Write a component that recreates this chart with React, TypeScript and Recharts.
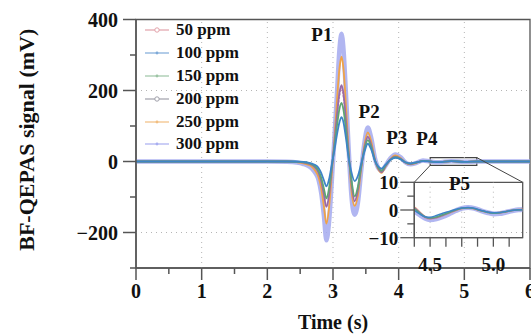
import { LineChart, Line, XAxis, YAxis, ReferenceArea, ReferenceLine, ReferenceDot } from 'recharts'

const FONT = '"Liberation Serif", "Times New Roman", serif'
const AXIS = '#555'
const INK = '#111'

// main trace, time in s, signal in mV
const TIME = [0, 1, 2, 2.3, 2.45, 2.55, 2.62, 2.68, 2.73, 2.78, 2.82, 2.86, 2.9, 2.94, 2.98, 3.02, 3.06, 3.1, 3.13, 3.16, 3.2, 3.24, 3.28, 3.33, 3.38, 3.43, 3.48, 3.53, 3.58, 3.64, 3.69, 3.74, 3.8, 3.87, 3.95, 4.03, 4.1, 4.18, 4.27, 4.37, 4.48, 4.6, 4.8, 5.0, 5.2, 5.6, 6]
const PPM50 = [0, 0, 0, 0, -1, -3, -5, -9, -16, -30, -52, -88, -125, -92, -22, 45, 125, 185, 205, 180, 105, 15, -58, -108, -76, -14, 38, 66, 46, 3, -18, -28, -12, 5, 13, 8, -2, -6, -3, 2, 0, -2, 1, -1, 0, 0, 0]
const PPM100 = [0, 0, 0, 0, 0, -1, -3, -6, -10, -18, -32, -52, -70, -50, -10, 30, 75, 112, 125, 110, 62, 8, -30, -55, -40, -6, 28, 50, 35, 2, -14, -20, -9, 4, 10, 6, -2, -5, -2, 1, 0, -2, 1, -1, 0, 0, 0]
const PPM150 = [0, 0, 0, 0, -1, -2, -4, -8, -14, -26, -45, -75, -104, -75, -18, 40, 100, 150, 165, 145, 85, 12, -50, -98, -70, -12, 34, 60, 42, 2, -17, -26, -11, 4, 12, 7, -2, -6, -3, 2, 0, -2, 1, -1, 0, 0, 0]
const PPM200 = [0, 0, 0, 0, -1, -3, -6, -10, -18, -32, -55, -92, -128, -95, -25, 50, 130, 195, 215, 190, 110, 18, -60, -112, -80, -15, 40, 70, 48, 3, -20, -30, -13, 5, 14, 8, -3, -7, -3, 2, 0, -2, 1, -1, 0, 0, 0]
const PPM250 = [0, 0, 0, 0, -2, -5, -9, -15, -26, -44, -75, -125, -175, -130, -40, 60, 170, 265, 295, 260, 150, 25, -80, -125, -95, -20, 48, 82, 58, 5, -22, -32, -14, 6, 17, 10, -3, -8, -4, 2, 0, -2, 1, -1, 0, 0, 0]
const PPM300 = [0, 0, 0, -1, -3, -7, -12, -20, -32, -52, -88, -150, -222, -170, -60, 60, 190, 320, 360, 315, 180, 30, -95, -150, -115, -25, 55, 96, 68, 8, -18, -25, -12, 8, 20, 12, -2, -8, -4, 3, 0, -2, 1, -1, 0, 0, 0]

// zoomed P5 region
const INSET_TIME = [4.38, 4.42, 4.46, 4.5, 4.55, 4.6, 4.65, 4.7, 4.75, 4.8, 4.85, 4.9, 4.95, 5.0, 5.05, 5.1, 5.15, 5.2, 5.23]
const IN50 = [0.8, -0.9, -2.8, -3.3, -2.9, -2.1, -1.2, -0.2, 0.5, 0.8, 0.5, -0.2, -0.8, -1.2, -1.1, -0.7, -0.2, 0.1, 0.2]
const IN100 = [-0.2, -1.5, -2.4, -2.6, -2.0, -1.2, -0.5, 0.2, 0.7, 0.9, 0.6, -0.1, -0.7, -1.0, -0.9, -0.5, -0.1, 0.1, 0.1]
const IN150 = [0.3, -1.2, -2.5, -2.9, -2.5, -1.7, -0.9, 0.0, 0.6, 0.8, 0.5, -0.2, -0.8, -1.2, -1.0, -0.6, -0.2, 0.0, 0.1]
const IN200 = [0.6, -1.0, -2.6, -3.1, -2.7, -1.9, -1.0, -0.1, 0.6, 0.8, 0.5, -0.2, -0.7, -1.1, -1.0, -0.6, -0.2, 0.1, 0.2]
const IN250 = [1.0, -0.8, -2.4, -3.0, -2.8, -2.0, -1.1, -0.2, 0.5, 0.7, 0.4, -0.3, -0.8, -1.0, -0.9, -0.5, -0.1, 0.2, 0.3]
const IN300 = [-0.5, -1.8, -3.0, -3.5, -3.2, -2.4, -1.4, -0.3, 0.6, 0.9, 0.6, -0.2, -0.9, -1.4, -1.3, -0.8, -0.3, 0.1, 0.2]

const X_TICKS = [0, 0.5, 1, 1.5, 2, 2.5, 3, 3.5, 4, 4.5, 5, 5.5, 6]
const X_LABELED = [0, 1, 2, 3, 4, 5, 6]
const Y_TICKS = [-300, -200, -100, 0, 100, 200, 300, 400]
const Y_LABELED = [-200, 0, 200, 400]
const X_GRID = [1, 2, 3, 4, 5]
const Y_GRID = [-200, 0, 200]

const IN_X_DOMAIN = [4.375, 5.232]
const IN_X_TICKS = [4.375, 4.5, 4.625, 4.75, 4.875, 5.0, 5.125]
const IN_X_LABELED = [4.5, 5.0]
const IN_Y_TICKS = [-10, -5, 0, 5, 10]
const IN_Y_LABELED = [-10, 0, 10]
const IN_X_GRID = [4.5, 4.75, 5.0]

// zoom box on the main plot and the corners of the inset in main-plot units
const ZOOM_BOX = { x1: 4.48, x2: 5.19, y1: -11, y2: 11 }
const INSET_CORNERS = { left: 4.238, right: 5.889, top: -58.5 }

const PEAKS = [
    { name: 'P1', t: 2.83, v: 359 },
    { name: 'P2', t: 3.55, v: 142 },
    { name: 'P3', t: 3.97, v: 67 },
    { name: 'P4', t: 4.43, v: 66 },
]

const SERIES = [
    { key: 's50', name: '50 ppm', color: '#c996bd', legend: '#e2a2aa', hollow: true, width: 1.5 },
    { key: 's100', name: '100 ppm', color: '#3d85c6', legend: '#7eaad8', hollow: false, width: 1.8 },
    { key: 's150', name: '150 ppm', color: '#5fa574', legend: '#9cc4a4', hollow: false, width: 1.8 },
    { key: 's200', name: '200 ppm', color: '#9a6aa6', legend: '#a0a0aa', hollow: true, width: 1.8 },
    { key: 's250', name: '250 ppm', color: '#f0a347', legend: '#f2be80', hollow: false, width: 1.8 },
    { key: 's300', name: '300 ppm', color: '#a3a9ee', legend: '#a8aef0', hollow: false, width: 4.5 },
]
const DRAW_ORDER = ['s300', 's250', 's50', 's200', 's150', 's100']

const mainData = TIME.map((t, i) => ({
    t, s50: PPM50[i], s100: PPM100[i], s150: PPM150[i], s200: PPM200[i], s250: PPM250[i], s300: PPM300[i],
}))
const insetData = INSET_TIME.map((t, i) => ({
    t, s50: IN50[i], s100: IN100[i], s150: IN150[i], s200: IN200[i], s250: IN250[i], s300: IN300[i],
}))

const minus = (v: number) => (v < 0 ? '\u2212' + Math.abs(v) : String(v))

const MainYTick = ({ x, y, payload }: any) => {
    const major = Y_LABELED.includes(payload.value)
    return (
        <g>
            <line x1={x - (major ? 13 : 6)} x2={x} y1={y} y2={y} stroke={AXIS} strokeWidth={1.5} />
            {major && (
                <text x={x - 18} y={y + 7} textAnchor="end" fontFamily={FONT} fontWeight="bold" fontSize={20} fill={INK}>
                    {minus(payload.value)}
                </text>
            )}
        </g>
    )
}

const MainXTick = ({ x, y, payload }: any) => {
    const major = X_LABELED.includes(payload.value)
    return (
        <g>
            <line x1={x} x2={x} y1={y} y2={y + (major ? 12 : 6)} stroke={AXIS} strokeWidth={1.5} />
            {major && (
                <text x={x} y={y + 30} textAnchor="middle" fontFamily={FONT} fontWeight="bold" fontSize={20} fill={INK}>
                    {payload.value}
                </text>
            )}
        </g>
    )
}

const InsetYTick = ({ x, y, payload }: any) => {
    const major = IN_Y_LABELED.includes(payload.value)
    return (
        <g>
            <line x1={x - (major ? 14 : 7)} x2={x} y1={y} y2={y} stroke={AXIS} strokeWidth={1.3} />
            {major && (
                <text x={x - 16} y={y + 7} textAnchor="end" fontFamily={FONT} fontWeight="bold" fontSize={19} fill={INK}>
                    {minus(payload.value)}
                </text>
            )}
        </g>
    )
}

const InsetXTick = ({ x, y, payload }: any) => {
    const major = IN_X_LABELED.includes(payload.value)
    return (
        <g>
            <line x1={x} x2={x} y1={y} y2={y + 9} stroke={AXIS} strokeWidth={1.3} />
            {major && (
                <text x={x} y={y + 33} textAnchor="middle" fontFamily={FONT} fontWeight="bold" fontSize={19} fill={INK}>
                    {payload.value.toFixed(1)}
                </text>
            )}
        </g>
    )
}

const yTitle = ({ viewBox }: any) => {
    const cx = viewBox.x + 26
    const cy = viewBox.y + viewBox.height / 2 - 4
    return (
        <text x={cx} y={cy} transform={`rotate(-90 ${cx} ${cy})`} textAnchor="middle" dominantBaseline="central"
            fontFamily={FONT} fontWeight="bold" fontSize={22} fill={INK}>
            BF-QEPAS signal (mV)
        </text>
    )
}

const xTitle = ({ viewBox }: any) => (
    <text x={viewBox.x + viewBox.width / 2} y={viewBox.y + 61} textAnchor="middle"
        fontFamily={FONT} fontWeight="bold" fontSize={20} fill={INK}>
        Time (s)
    </text>
)

const peakLabel = (name: string) => ({ viewBox }: any) => (
    <text x={viewBox.x + (viewBox.width || 0) / 2} y={viewBox.y + (viewBox.height || 0) / 2} textAnchor="middle"
        dominantBaseline="central" fontFamily={FONT} fontWeight="bold" fontSize={19} fill={INK}>
        {name}
    </text>
)

function Leyenda() {
    return (
        <div style={{ position: 'absolute', left: 145, top: 19, fontFamily: FONT, fontWeight: 'bold', fontSize: 17, color: INK }}>
            {SERIES.map((s) => (
                <div key={s.key} style={{ height: 22.8, display: 'flex', alignItems: 'center' }}>
                    <svg width={31} height={10} style={{ display: 'block' }}>
                        <line x1={0} x2={24} y1={5} y2={5} stroke={s.legend} strokeWidth={1.2} />
                        {s.hollow
                            ? <circle cx={12} cy={5} r={2.2} fill="#fff" stroke={s.legend} strokeWidth={1} />
                            : <circle cx={12} cy={5} r={1.4} fill={s.legend} />}
                    </svg>
                    <span>{s.name}</span>
                </div>
            ))}
        </div>
    )
}

export default function App() {
    const byKey = (k: string) => SERIES.find((s) => s.key === k)!
    return (
        <div style={{ position: 'absolute', left: 0, top: 0, width: 531, height: 336, background: '#fff' }}>
            <LineChart width={531} height={336} data={mainData} margin={{ top: 19.5, right: 1, left: 0, bottom: 0 }}>
                {X_GRID.map((v) => (
                    <ReferenceLine key={'gx' + v} x={v} stroke="#b5b5b5" strokeDasharray="1 4" />
                ))}
                {Y_GRID.map((v) => (
                    <ReferenceLine key={'gy' + v} y={v} stroke="#b5b5b5" strokeDasharray="1 4" />
                ))}
                <XAxis
                    type="number" dataKey="t" domain={[0, 6]} ticks={X_TICKS} interval={0}
                    height={68} tickSize={0} tickMargin={0} tickLine={false}
                    axisLine={{ stroke: AXIS, strokeWidth: 1.5 }}
                    tick={<MainXTick />} label={xTitle}
                />
                <YAxis
                    type="number" domain={[-300, 400]} ticks={Y_TICKS} interval={0}
                    width={136} tickSize={0} tickMargin={0} tickLine={false}
                    axisLine={{ stroke: AXIS, strokeWidth: 1.5 }}
                    tick={<MainYTick />} label={yTitle}
                />
                <ReferenceArea x1={0} x2={6} y1={-300} y2={400} fill="none" stroke={AXIS} strokeWidth={1.3} />
                {DRAW_ORDER.map((k) => {
                    const s = byKey(k)
                    return (
                        <Line key={k} type="monotone" dataKey={k} name={s.name} stroke={s.color}
                            strokeWidth={s.width} strokeOpacity={k === 's300' ? 0.85 : 1}
                            strokeDasharray={k === 's50' ? '2 1.5' : undefined}
                            dot={false} activeDot={false} isAnimationActive={false} />
                    )
                })}
                <ReferenceArea {...ZOOM_BOX} fill="none" stroke="#444" strokeWidth={1.2} />
                <ReferenceLine
                    segment={[{ x: ZOOM_BOX.x1, y: ZOOM_BOX.y1 }, { x: INSET_CORNERS.left, y: INSET_CORNERS.top }]}
                    stroke="#444" strokeWidth={1} ifOverflow="visible"
                />
                <ReferenceLine
                    segment={[{ x: ZOOM_BOX.x2, y: ZOOM_BOX.y2 }, { x: INSET_CORNERS.right, y: INSET_CORNERS.top }]}
                    stroke="#444" strokeWidth={1} ifOverflow="visible"
                />
                {PEAKS.map((p) => (
                    <ReferenceDot key={p.name} x={p.t} y={p.v} r={0} fill="none" stroke="none" label={peakLabel(p.name)} />
                ))}
            </LineChart>

            <div style={{ position: 'absolute', left: 360, top: 170 }}>
                <LineChart width={171} height={110} data={insetData} margin={{ top: 12.3, right: 8.3, left: 0, bottom: 0 }}>
                    {IN_X_GRID.map((v) => (
                        <ReferenceLine key={'ix' + v} x={v} stroke="#b5b5b5" strokeDasharray="1 4" />
                    ))}
                    <XAxis
                        type="number" dataKey="t" domain={IN_X_DOMAIN} allowDataOverflow ticks={IN_X_TICKS} interval={0}
                        height={42.3} tickSize={0} tickMargin={0} tickLine={false}
                        axisLine={{ stroke: AXIS, strokeWidth: 1.3 }} tick={<InsetXTick />}
                    />
                    <YAxis
                        type="number" domain={[-10, 10]} allowDataOverflow ticks={IN_Y_TICKS} interval={0}
                        width={54.3} tickSize={0} tickMargin={0} tickLine={false}
                        axisLine={{ stroke: AXIS, strokeWidth: 1.3 }} tick={<InsetYTick />}
                    />
                    <ReferenceArea x1={IN_X_DOMAIN[0]} x2={IN_X_DOMAIN[1]} y1={-10} y2={10} fill="none" stroke={AXIS} strokeWidth={1.3} />
                    {DRAW_ORDER.map((k) => {
                        const s = byKey(k)
                        return (
                            <Line key={k} type="monotone" dataKey={k} name={s.name} stroke={s.color}
                                strokeWidth={k === 's300' ? 5 : 1.5} strokeOpacity={k === 's300' ? 0.85 : 1}
                                dot={false} activeDot={false} isAnimationActive={false} />
                        )
                    })}
                    <ReferenceDot x={4.732} y={9.6} r={0} fill="none" stroke="none" ifOverflow="visible" label={peakLabel('P5')} />
                </LineChart>
            </div>

            <Leyenda />
        </div>
    )
}
